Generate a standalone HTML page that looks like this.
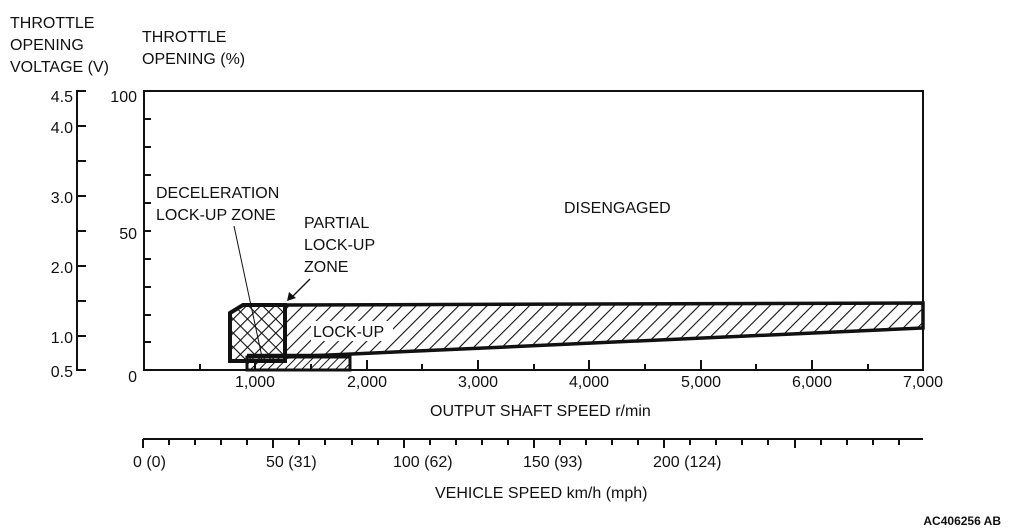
<!DOCTYPE html>
<html><head><meta charset="utf-8"><style>
html,body{margin:0;padding:0;background:#fff}
svg{display:block}
text{font-family:"Liberation Sans",sans-serif;font-size:16px;fill:#111}
</style></head><body>
<svg width="1010" height="531" viewBox="0 0 1010 531" xmlns="http://www.w3.org/2000/svg">
<defs>
<pattern id="h" width="10" height="10" patternUnits="userSpaceOnUse" patternTransform="rotate(45)">
<line x1="0" y1="0" x2="0" y2="10" stroke="#111" stroke-width="2.2"/></pattern>
<pattern id="hs" width="6" height="6" patternUnits="userSpaceOnUse" patternTransform="rotate(45)">
<line x1="0" y1="0" x2="0" y2="6" stroke="#111" stroke-width="2"/></pattern>
<pattern id="x" width="10" height="10" patternUnits="userSpaceOnUse" patternTransform="rotate(45)">
<line x1="0" y1="0" x2="0" y2="10" stroke="#111" stroke-width="2.2"/>
<line x1="0" y1="0" x2="10" y2="0" stroke="#111" stroke-width="2.2"/></pattern>
</defs>
<g>
<text x="10" y="28">THROTTLE</text>
<text x="10" y="50">OPENING</text>
<text x="10" y="72">VOLTAGE (V)</text>
<text x="142" y="42">THROTTLE</text>
<text x="142" y="64">OPENING (%)</text>
</g>
<g stroke="#111" stroke-width="2" fill="none">
<path d="M86,91 H77 V370 H86"/>
<path d="M77,126H86M77,161H86M77,196H86M77,231H86M77,266H86M77,301H86M77,336H86"/>
</g>
<g text-anchor="end">
<text x="73" y="102">4.5</text><text x="73" y="133">4.0</text><text x="73" y="203">3.0</text>
<text x="73" y="273">2.0</text><text x="73" y="343">1.0</text><text x="73" y="377">0.5</text>
<text x="137" y="102">100</text><text x="137" y="239">50</text><text x="137" y="382">0</text>
</g>
<g stroke="#111" stroke-width="2" fill="none">
<rect x="144" y="91" width="779" height="279"/>
<path d="M144,119H151M144,147H151M144,175H151M144,203H151M144,231H151M144,259H151M144,287H151M144,315H151M144,342H151"/>
<path d="M200,370V364M255,370V360M311,370V364M367,370V360M422,370V364M478,370V360M534,370V364M589,370V360M645,370V364M701,370V360M756,370V364M812,370V360M868,370V364"/>
</g>
<polygon points="285,305 923,303 923,328 285,357" fill="url(#h)"/>
<polygon points="285,305 923,303 923,328 285,357" fill="none" stroke="#111" stroke-width="3.5"/>
<polygon points="230,313 243,305 285,305 285,361 230,361" fill="url(#x)" stroke="#111" stroke-width="4"/>
<rect x="247" y="357" width="103" height="13" fill="url(#hs)" stroke="#111" stroke-width="3"/>
<line x1="247" y1="356" x2="350" y2="356" stroke="#111" stroke-width="4.5"/>
<rect x="311" y="321" width="82" height="20" fill="#fff"/>
<text x="156" y="198">DECELERATION</text>
<text x="156" y="220">LOCK-UP ZONE</text>
<text x="304" y="228">PARTIAL</text>
<text x="304" y="250">LOCK-UP</text>
<text x="304" y="272">ZONE</text>
<text x="564" y="213">DISENGAGED</text>
<text x="313" y="337">LOCK-UP</text>
<line x1="234" y1="226" x2="262" y2="357" stroke="#111" stroke-width="1"/>
<line x1="310" y1="279" x2="292" y2="297" stroke="#111" stroke-width="1.3"/>
<polygon points="287,301 289,292 296,298" fill="#111"/>
<g text-anchor="middle">
<text x="255" y="387">1,000</text><text x="367" y="387">2,000</text><text x="478" y="387">3,000</text>
<text x="589" y="387">4,000</text><text x="701" y="387">5,000</text><text x="812" y="387">6,000</text>
<text x="923" y="387">7,000</text>
</g>
<text x="430" y="416">OUTPUT SHAFT SPEED r/min</text>
<g stroke="#111" stroke-width="2" fill="none">
<path d="M143,439H923"/>
<path d="M143,439V448M273,439V448M404,439V448M534,439V448M664,439V448M795,439V448"/>
<path d="M169,439V445M195,439V445M221,439V445M247,439V445M299,439V445M325,439V445M352,439V445M378,439V445M430,439V445M456,439V445M482,439V445M508,439V445M560,439V445M586,439V445M612,439V445M638,439V445M690,439V445M716,439V445M742,439V445M768,439V445M821,439V445M847,439V445M873,439V445M899,439V445"/>
</g>
<text x="133" y="467">0 (0)</text>
<text x="266" y="467">50 (31)</text>
<text x="393" y="467">100 (62)</text>
<text x="523" y="467">150 (93)</text>
<text x="653" y="467">200 (124)</text>
<text x="435" y="498">VEHICLE SPEED km/h (mph)</text>
<text x="1001" y="525" text-anchor="end" style="font-size:12px;font-weight:bold">AC406256 AB</text>
</svg>
</body></html>
